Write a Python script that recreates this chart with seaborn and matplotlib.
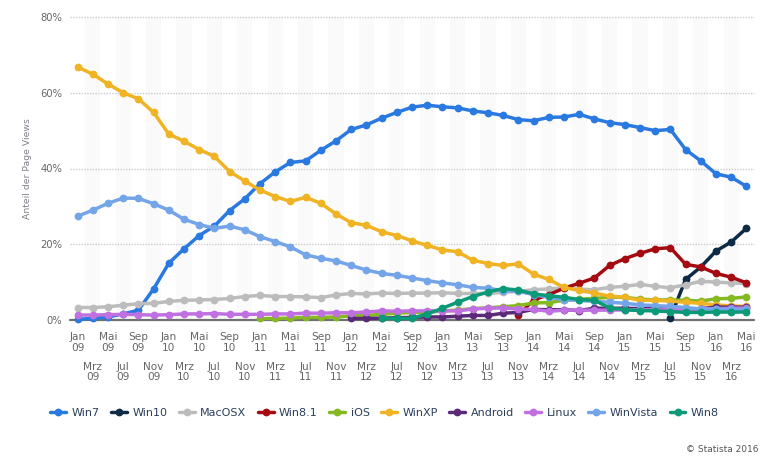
"""OS share of page views, Jan 2009 - May 2016."""
import matplotlib
matplotlib.use("Agg")
import matplotlib.pyplot as plt
import numpy as np
import pandas as pd
import seaborn as sns

N = np.nan

MONTHS = ["Jan", "Mrz", "Mai", "Jul", "Sep", "Nov"]
TICK_LABELS = [f"{MONTHS[i % 6]}\n{9 + i // 6:02d}" for i in range(45)]
SERIES_NAMES = ["Win7", "Win10", "MacOSX", "Win8.1", "iOS", "WinXP",
                "Android", "Linux", "WinVista", "Win8"]
COLORS = ["#2a79e0", "#0e2a44", "#bcbcbc", "#a50a10", "#86b822", "#f0b323",
          "#5a2a78", "#c070e0", "#74a5e8", "#0a9a78"]

win7 = [0.2, 0.4, 0.8, 1.6, 2.6, 8.2, 15.0, 18.8, 22.3, 24.8, 28.9, 32.0,
        36.0, 39.1, 41.6, 42.0, 44.8, 47.3, 50.3, 51.5, 53.3, 54.8, 56.2, 56.7,
        56.3, 56.0, 55.2, 54.7, 54.0, 52.9, 52.6, 53.5, 53.6, 54.3, 53.1, 52.1,
        51.6, 50.8, 50.0, 50.3, 45.0, 42.0, 38.6, 37.7, 35.3]
win10 = [N] * 39 + [0.6, 10.7, 14.0, 18.2, 20.6, 24.2]
macosx = [3.3, 3.3, 3.5, 3.9, 4.3, 4.4, 4.9, 5.2, 5.3, 5.4, 5.7, 6.2,
          6.5, 6.2, 6.2, 6.1, 5.9, 6.6, 7.0, 6.9, 7.1, 7.0, 7.1, 7.1,
          7.2, 7.0, 7.0, 7.0, 7.3, 7.6, 8.0, 8.2, 8.5, 8.1, 8.0, 8.6,
          8.9, 9.4, 8.9, 8.5, 9.3, 10.2, 10.0, 9.8, 9.6]
win81 = [N] * 29 + [1.3, 5.3, 6.7, 8.4, 9.7, 11.1, 14.4, 16.2, 17.6, 18.8, 19.1,
                    14.7, 14.0, 12.3, 11.3, 9.8]
ios = [N] * 12 + [0.4, 0.4, 0.5, 0.7, 0.7, 0.8, 1.1, 1.2, 1.5, 1.8, 2.0, 2.0,
                  2.4, 2.6, 3.0, 3.2, 3.5, 3.8, 4.5, 4.6, 5.2, 5.5, 5.7, 6.0,
                  6.0, 5.5, 5.3, 5.3, 5.2, 5.0, 5.6, 5.7, 6.1]
winxp = [66.8, 64.9, 62.3, 60.0, 58.4, 54.8, 49.1, 47.2, 45.0, 43.2, 39.2, 36.7,
         34.3, 32.6, 31.3, 32.4, 30.8, 28.0, 25.7, 25.0, 23.3, 22.3, 20.9, 19.7,
         18.5, 18.0, 15.8, 14.9, 14.4, 14.8, 12.1, 10.7, 8.6, 7.8, 7.1, 6.3,
         6.0, 5.2, 5.2, 5.0, 4.7, 4.4, 4.0, 3.7, 3.6]
android = [N] * 18 + [0.4, 0.4, 0.5, 0.6, 0.7, 0.8, 0.8, 1.0, 1.2, 1.2, 1.8, 2.0,
                      2.8, 2.7, 2.7, 2.5, 3.1, 3.1, 3.1, 3.0, 3.0, 2.8, 2.8, 3.0,
                      3.4, 3.4, 3.4]
linux = [1.3, 1.3, 1.4, 1.5, 1.4, 1.3, 1.4, 1.6, 1.6, 1.7, 1.5, 1.5,
         1.5, 1.6, 1.6, 1.8, 1.8, 1.9, 1.9, 2.1, 2.4, 2.3, 2.4, 2.4,
         2.4, 2.4, 2.9, 3.1, 3.2, 2.9, 2.8, 2.3, 2.6, 2.6, 2.6, 2.6,
         2.7, 2.7, 2.7, 2.7, 2.7, 3.0, 3.0, 3.1, 3.2]
winvista = [27.4, 29.0, 30.8, 32.2, 32.1, 30.7, 29.0, 26.6, 25.2, 24.2, 24.8, 23.8,
            22.0, 20.7, 19.3, 17.2, 16.3, 15.6, 14.4, 13.2, 12.3, 11.8, 11.1, 10.4,
            9.8, 9.3, 8.6, 8.4, 7.7, 7.6, 6.7, 6.0, 5.3, 5.2, 4.9, 4.7,
            4.4, 4.0, 3.8, 3.6, 3.3, 2.9, 2.9, 2.8, 2.8]
win8 = [N] * 20 + [0.4, 0.4, 0.45, 1.6, 3.1, 4.7, 6.2, 7.4, 8.3, 7.9, 6.9, 6.4,
                   6.0, 5.4, 5.2, 3.2, 2.7, 2.5, 2.4, 2.2, 2.0, 2.0, 2.1, 2.1, 2.1]

values = [win7, win10, macosx, win81, ios, winxp, android, linux, winvista, win8]

df = pd.concat(
    [pd.DataFrame({"pos": range(45), "share": v, "os": name})
     for name, v in zip(SERIES_NAMES, values)],
    ignore_index=True,
).dropna()

sns.set_theme(style="white")
plt.rcParams["font.family"] = ["DejaVu Sans"]

W, H = 774, 459
fig = plt.figure(figsize=(W / 100, H / 100), dpi=100)
ax = fig.add_axes([70 / W, 1 - 320 / H, 684 / W, 303 / H])

# alternating month bands
for i in range(1, 45, 2):
    ax.axvspan(i - 0.5, i + 0.5, color="#fafafa", lw=0, zorder=0)
for y in [20, 40, 60, 80]:
    ax.axhline(y, color="#cccccc", lw=1, ls=(0, (1, 1)), zorder=1, clip_on=False)
ax.axhline(0, color="#707070", lw=1.6, zorder=1.5, clip_on=False)

sns.lineplot(data=df, x="pos", y="share", hue="os", hue_order=SERIES_NAMES,
             palette=COLORS, estimator=None, sort=False, marker="o", markersize=5.6,
             markeredgewidth=0, linewidth=2.5, clip_on=False, ax=ax, zorder=3)

ax.set_xlim(-0.5, 44.5)
ax.set_ylim(0, 80)
ax.set_xlabel("")
ax.set_ylabel("Anteil der Page Views", fontsize=6.7, color="#80808c")
ax.yaxis.set_label_coords(-0.0556, 0.5)
ax.set_yticks([0, 20, 40, 60, 80], ["0%", "20%", "40%", "60%", "80%"])
ax.set_xticks(range(0, 45, 2), TICK_LABELS[::2])
ax.set_xticks(range(1, 45, 2), TICK_LABELS[1::2], minor=True)
ax.tick_params(axis="y", length=0, pad=5.8, labelsize=7.2, labelcolor="#666666")
ax.tick_params(axis="x", which="major", length=0, pad=9, labelsize=7.6, labelcolor="#666666")
ax.tick_params(axis="x", which="minor", length=0, pad=30, labelsize=7.6, labelcolor="#666666")
for lab in ax.get_xticklabels(which="both"):
    lab.set_linespacing(1.1)
for spine in ax.spines.values():
    spine.set_visible(False)

handles, labels = ax.get_legend_handles_labels()
ax.get_legend().remove()
fig.legend(handles, labels, ncol=10, loc="center", bbox_to_anchor=(0.497, 1 - 413 / H),
           frameon=False, fontsize=8, labelcolor="#2b3f5c", handlelength=1.4,
           handletextpad=0.5, columnspacing=1.05, borderpad=0)

fig.text(758 / W, 1 - 449 / H, "© Statista 2016", ha="right", va="center",
         fontsize=6.5, color="#555555")

fig.savefig("out.png", dpi=100)
plt.close(fig)
